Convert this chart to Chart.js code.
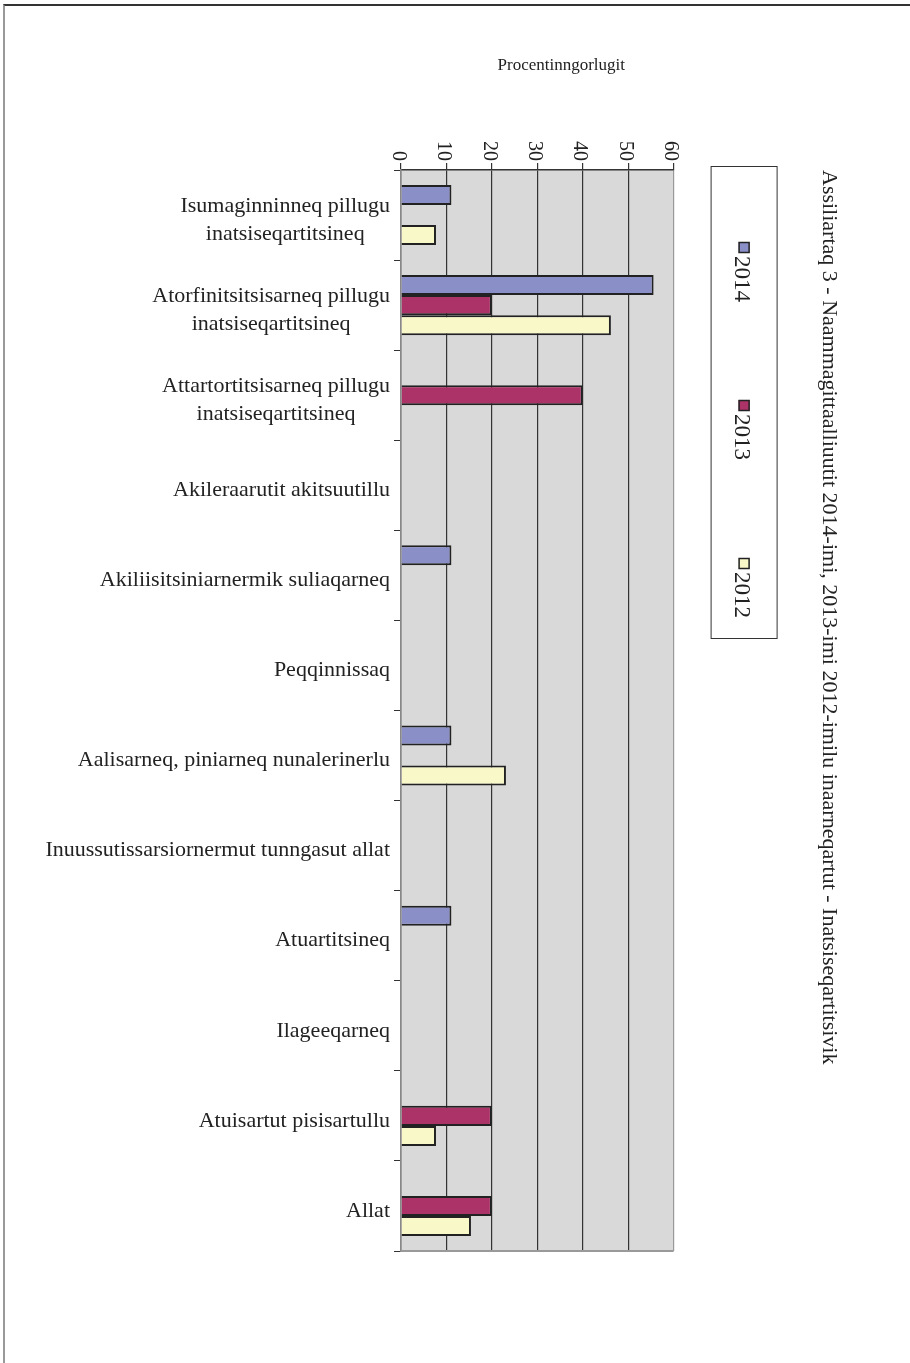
<!DOCTYPE html>
<html>
<head>
<meta charset="utf-8">
<title>Naammagittaalliuutit 2012-2014</title>
<script src="https://cdn.jsdelivr.net/npm/chart.js"></script>
<style>
  html, body { margin: 0; padding: 0; background: #fff; overflow: hidden; }
  .page { position: absolute; left: 3px; top: 4px; width: 930px; height: 1380px;
          border-top: 2px solid #333; border-left: 2px solid #999; }
  .chart-box { position: absolute; left: 0; top: 0; width: 910px; height: 1363px; }
</style>
</head>
<body>
<div class="page"></div>
<div class="chart-box"><canvas id="chart"></canvas></div>
<script>
const labels = [
  ["Isumaginninneq pillugu", "inatsiseqartitsineq"],
  ["Atorfinitsitsisarneq pillugu", "inatsiseqartitsineq"],
  ["Attartortitsisarneq pillugu", "inatsiseqartitsineq"],
  "Akileraarutit akitsuutillu",
  "Akiliisitsiniarnermik suliaqarneq",
  "Peqqinnissaq",
  "Aalisarneq, piniarneq nunalerinerlu",
  "Inuussutissarsiornermut tunngasut allat",
  "Atuartitsineq",
  "Ilageeqarneq",
  "Atuisartut pisisartullu",
  "Allat"
];

const values2014 = [11.1, 55.6, 0, 0, 11.1, 0, 11.1, 0, 11.1, 0, 0, 0];
const values2013 = [0, 20, 40, 0, 0, 0, 0, 0, 0, 0, 20, 20];
const values2012 = [7.7, 46.2, 0, 0, 0, 0, 23.1, 0, 0, 0, 7.7, 15.4];

const xTicks = [0, 10, 20, 30, 40, 50, 60];

const chartTitle = "Assiliartaq 3 - Naammagittaalliuutit 2014-imi, 2013-imi 2012-imilu inaarneqartut - Inatsiseqartitsivik";
const axisTitle = "Procentinngorlugit";

const serif = "'Liberation Serif', 'Times New Roman', serif";
const ink = "#222";

// background of plot, rotated tick labels, category labels and the rotated legend
const sketchPlugin = {
  id: "sketch",
  beforeDraw(chart) {
    const { ctx, chartArea: a } = chart;
    ctx.save();
    ctx.fillStyle = "#d9d9d9";
    ctx.fillRect(a.left, a.top, a.right - a.left, a.bottom - a.top);
    ctx.restore();
  },
  afterDraw(chart) {
    const { ctx, chartArea: a, scales } = chart;
    ctx.save();

    // bottom edge of the plot
    ctx.strokeStyle = "#999";
    ctx.lineWidth = 2;
    ctx.beginPath();
    ctx.moveTo(a.left, a.bottom);
    ctx.lineTo(a.right, a.bottom);
    ctx.stroke();

    ctx.fillStyle = ink;

    // x tick labels, turned clockwise
    ctx.font = "20px " + serif;
    ctx.textAlign = "right";
    ctx.textBaseline = "middle";
    scales.x.ticks.forEach(t => {
      const x = scales.x.getPixelForValue(t.value);
      ctx.save();
      ctx.translate(x - 3, a.top - 9);
      ctx.rotate(Math.PI / 2);
      ctx.fillText(String(t.value), 0, 0);
      ctx.restore();
    });

    // axis title
    ctx.textAlign = "center";
    ctx.font = "17px " + serif;
    ctx.fillText(axisTitle, (a.left + a.right) / 2 + 24, 66);

    // category labels: block right aligned, lines centred
    ctx.font = "22px " + serif;
    labels.forEach((lab, i) => {
      const lines = Array.isArray(lab) ? lab : [lab];
      const y = scales.y.getPixelForTick(i);
      const w = Math.max(...lines.map(l => ctx.measureText(l).width));
      const cx = a.left - 11 - w / 2;
      lines.forEach((l, j) => {
        ctx.fillText(l, cx, y + 5 + (j - (lines.length - 1) / 2) * 28);
      });
    });

    // legend box
    const L = a.right + 37, T = a.top - 4, W = 66, H = 472;
    ctx.fillStyle = "#fff";
    ctx.fillRect(L, T, W, H);
    ctx.strokeStyle = "#333";
    ctx.lineWidth = 1;
    ctx.strokeRect(L + 0.5, T + 0.5, W, H);

    ctx.font = "23px " + serif;
    ctx.textAlign = "left";
    chart.data.datasets.forEach((ds, i) => {
      const y0 = T + 76 + i * 158;
      ctx.fillStyle = ds.backgroundColor;
      ctx.fillRect(L + 28, y0, 11, 11);
      ctx.strokeStyle = ink;
      ctx.lineWidth = 1.5;
      ctx.strokeRect(L + 28.5, y0 + 0.5, 10, 10);
      ctx.fillStyle = ink;
      ctx.save();
      ctx.translate(L + 30, y0 + 14);
      ctx.rotate(Math.PI / 2);
      ctx.fillText(ds.label, 0, 0);
      ctx.restore();
    });

    ctx.restore();
  }
};

const data = {
  labels: labels,
  datasets: [
    { label: "2014", data: values2014, backgroundColor: "#8a8fc8" },
    { label: "2013", data: values2013, backgroundColor: "#ab3368" },
    { label: "2012", data: values2012, backgroundColor: "#f8f8c8" }
  ].map(ds => Object.assign(ds, {
    borderColor: ink,
    borderWidth: 2,
    categoryPercentage: 0.667,
    barPercentage: 1
  }))
};

const config = {
  type: "bar",
  data: data,
  options: {
    indexAxis: "y",
    responsive: true,
    maintainAspectRatio: false,
    animation: false,
    layout: { padding: { top: 0, left: 0, right: 60, bottom: 112 } },
    plugins: {
      legend: { display: false },
      tooltip: { enabled: false },
      title: {
        display: true,
        text: chartTitle,
        position: "right",
        align: "start",
        fullSize: false,
        color: ink,
        font: { family: serif, size: 22, weight: "normal" },
        padding: { top: 8, bottom: 142 }
      }
    },
    scales: {
      x: {
        type: "linear",
        position: "top",
        min: 0,
        max: 60,
        afterBuildTicks: s => { s.ticks = xTicks.map(v => ({ value: v })); },
        afterFit: s => { s.height = 170; },
        ticks: { display: false },
        grid: {
          color: c => (c.tick && c.tick.value === 60 ? "#999" : "#333"),
          lineWidth: 1.2,
          tickLength: 7,
          tickColor: "#333"
        },
        border: { color: "#333", width: 1.5 }
      },
      y: {
        afterFit: s => { s.width = 401; },
        ticks: { display: false },
        grid: { drawOnChartArea: false, tickLength: 7, color: "#333", offset: true },
        border: { color: "#888", width: 1.5 }
      }
    }
  },
  plugins: [sketchPlugin]
};

const myChart = new Chart(document.getElementById("chart"), config);
</script>
</body>
</html>
